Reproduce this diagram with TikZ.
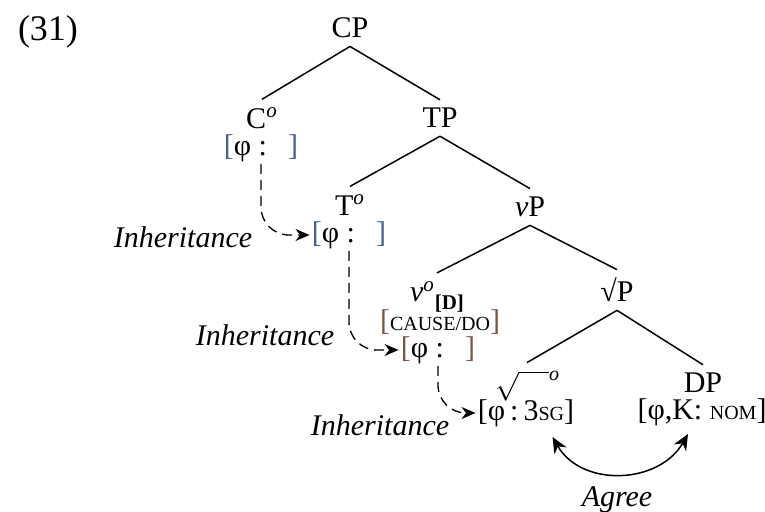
\documentclass[tikz,border=0pt]{standalone}
\usepackage{amsmath}
\usepackage{fontspec}
\setmainfont{Liberation Serif}
\usepackage{tikz}
\usetikzlibrary{
arrows.meta,
positioning
}
\definecolor{featblue}{RGB}{70,95,140}
\definecolor{featbrown}{RGB}{125,85,70}
\newcommand{\smc}[1]{{\fontsize{10}{12}\selectfont #1}}
\newcommand{\hd}{\textsuperscript{\textit{o}}}

\begin{document}
\begin{tikzpicture}[x=0.5pt, y=0.5pt,
  cat/.style={font=\fontsize{15}{18}\selectfont, inner sep=4pt},
  feat/.style={font=\fontsize{15}{18}\selectfont, inner sep=1pt},
  note/.style={font=\fontsize{15}{18}\selectfont\itshape, inner sep=1pt},
  branch/.style={line width=0.75pt},
  inherit/.style={-{Stealth[length=7pt, width=6pt]}, line width=0.65pt,
                  dash pattern=on 5pt off 3pt, rounded corners=14pt},
  agree/.style={{Stealth[length=8pt, width=7pt]}-{Stealth[length=8pt, width=7pt]},
                line width=0.75pt}
]
\useasboundingbox (0,0) rectangle (765,-512);

%% Example number
\node[font=\fontsize{18}{20}\selectfont] (num) at (48,-32) {(31)};

%% Categories
\node[cat] (CP) at (350,-28)  {CP};
\node[cat] (C)  at (262,-118) {C\hd};
\node[cat] (TP) at (440,-118) {TP};
\node[cat] (T)  at (350,-205) {T\hd};
\node[cat] (vP) at (530,-207) {\textit{v}P};
\node[cat] (v)  at (437,-297) {\textit{v}\hd\raisebox{-0.6ex}{\fontsize{10.5}{12}\selectfont\bfseries[D]}};
\node[cat] (rP) at (617,-290) {√P};
\node[cat] (rt) at (527,-386)
  {$\sqrt{\rule{0pt}{12.5pt}\hspace{15pt}}$\raisebox{10pt}{\fontsize{10}{12}\selectfont\textit{o}}};
\node[cat] (DP) at (703,-383) {DP};

%% Feature bundles
\node[feat] (Cf) at (261,-148)
  {\textcolor{featblue}{[}φ :\hspace{0.7em}\textcolor{featblue}{]}};
\node[feat] (Tf) at (349,-235)
  {\textcolor{featblue}{[}φ :\hspace{0.7em}\textcolor{featblue}{]}};
\node[feat] (vc) at (440,-322)
  {\textcolor{featbrown}{[}\smc{CAUSE/DO}\textcolor{featbrown}{]}};
\node[feat] (vf) at (438,-350)
  {\textcolor{featbrown}{[}φ :\hspace{0.7em}\textcolor{featbrown}{]}};
\node[feat] (rf) at (526,-413)
  {[φ\,:\,3\smc{SG}]};
\node[feat] (Df) at (702,-412)
  {[φ,K: \smc{NOM}]};

%% Branches
\draw[branch] (CP.south) -- (C.north);
\draw[branch] (CP.south) -- (TP.north);
\draw[branch] (TP.south) -- (T.north);
\draw[branch] (TP.south) -- (vP.north);
\draw[branch] (vP.south) -- (v.north);
\draw[branch] (vP.south) -- (rP.north);
\draw[branch] (rP.south) -- (rt.north);
\draw[branch] (rP.south) -- (DP.north);

%% Inheritance arrows
\draw[inherit] (Cf.south) |- (Tf.west);
\draw[inherit] (Tf.south) |- (vf.west);
\draw[inherit] (vf.south) |- (rf.west);
\node[note] (inh1) at (183,-237) {Inheritance};
\node[note] (inh2) at (265,-335) {Inheritance};
\node[note] (inh3) at (380,-425) {Inheritance};

%% Agree
\draw[agree] ([xshift=-12pt, yshift=-4pt]rf.south east) to[out=-60, in=-120, looseness=1.1]
  ([xshift=-7pt, yshift=-3pt]Df.south);
\node[note] (agr) at (617,-500) {Agree};

\end{tikzpicture}
\end{document}
